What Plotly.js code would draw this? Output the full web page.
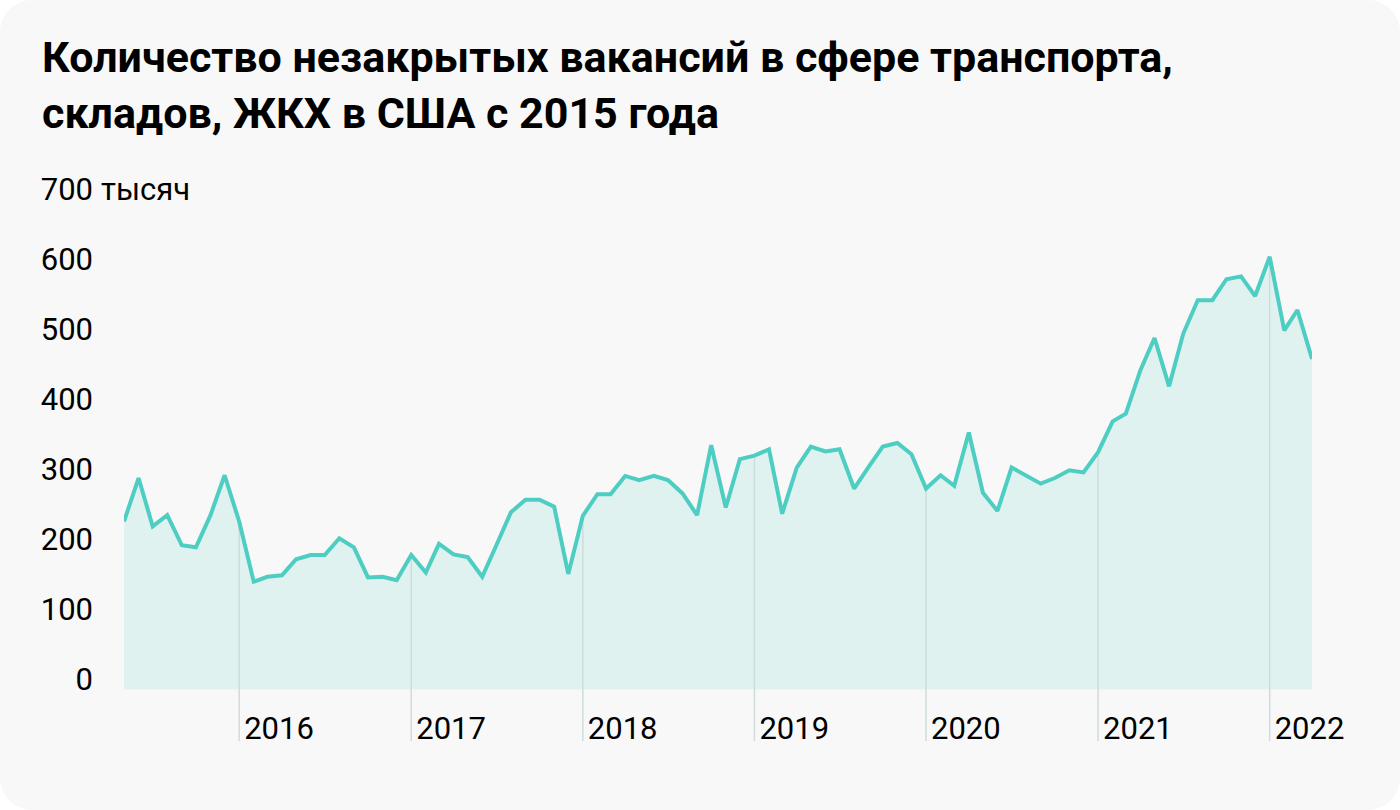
<!DOCTYPE html>
<html>
<head>
<meta charset="utf-8">
<script src="https://cdn.plot.ly/plotly-3.0.1.min.js"></script>
<style>
  html, body { margin: 0; padding: 0; background: #ffffff; }
  #chart { width: 1400px; height: 810px; background: #f8f8f8; border-radius: 32px; overflow: hidden; }
</style>
</head>
<body>
<div id="chart"></div>
<script>
// Job openings, transportation / warehousing / utilities, thousands
// monthly, from May 2015 to Apr 2022
var firstYear = 2015;
var firstMonth = 5;
var openings = [
    240, 302, 233, 249, 206, 203, 249, 306,                     // 2015 (May-Dec)
    240, 154, 161, 163, 186, 192, 192, 216, 203, 160, 161, 156, // 2016
    192, 167, 208, 193, 189, 161, 206, 253, 271, 271, 261, 165, // 2017
    248, 279, 279, 305, 299, 305, 299, 280, 249, 349, 260, 329, // 2018
    334, 343, 251, 317, 347, 340, 343, 287, 318, 347, 352, 336, // 2019
    287, 306, 291, 367, 281, 255, 317, 306, 294, 302, 313, 310, // 2020
    339, 383, 394, 456, 502, 433, 508, 556, 556, 586, 590, 562, // 2021
    618, 513, 542, 472                                          // 2022 (Jan-Apr)
];
var yearLabels = ['2016', '2017', '2018', '2019', '2020', '2021', '2022'];
var yTickVals = [0, 100, 200, 300, 400, 500, 600, 700];
var yTickText = ['0', '100', '200', '300', '400', '500', '600', '700'];
var unitLabel = 'тысяч';

var yFloor = -73.6;   // where the year lines stop, below zero
var yBottom = -87.9;
var yTop = 742;

// month dates for the x axis
var dates = [];
for (var i = 0; i < openings.length; i++) {
    var m = firstMonth - 1 + i;
    var yy = firstYear + Math.floor(m / 12);
    var mm = (m % 12) + 1;
    dates.push(yy + '-' + (mm < 10 ? '0' + mm : mm) + '-01');
}

// vertical year lines from the curve down to the labels
var lineX = [], lineY = [];
yearLabels.forEach(function (yr) {
    var d = yr + '-01-01';
    var idx = dates.indexOf(d);
    lineX.push(d, d, null);
    lineY.push(openings[idx], yFloor, null);
});

var fillTrace = {
    x: dates,
    y: openings,
    type: 'scatter',
    mode: 'lines',
    fill: 'tozeroy',
    fillcolor: '#e0f2f0',
    line: {width: 0, color: 'rgba(0,0,0,0)'},
    hoverinfo: 'skip'
};

var yearLines = {
    x: lineX,
    y: lineY,
    type: 'scatter',
    mode: 'lines',
    line: {color: '#cfdcdb', width: 1.5},
    hoverinfo: 'skip'
};

var mainLine = {
    x: dates,
    y: openings,
    type: 'scatter',
    mode: 'lines',
    line: {color: '#4ecdc3', width: 4},
    hoverinfo: 'x+y'
};

var tickFont = {family: 'Roboto, sans-serif', size: 31, color: '#000000'};

var layout = {
    width: 1400,
    height: 810,
    paper_bgcolor: 'rgba(0,0,0,0)',
    plot_bgcolor: 'rgba(0,0,0,0)',
    showlegend: false,
    margin: {l: 124, r: 88, t: 170, b: 59},
    font: {family: 'Roboto, sans-serif', color: '#000000', size: 31},
    title: {
        text: '<b>Количество незакрытых вакансий в сфере транспорта,<br>складов, ЖКХ в США с 2015 года</b>',
        font: {family: 'Roboto, sans-serif', size: 43, color: '#000000'},
        x: 42 / 1400,
        xanchor: 'left',
        y: 1 - 72 / 810,
        yanchor: 'top'
    },
    xaxis: {
        type: 'date',
        range: [dates[0], dates[dates.length - 1]],
        tickmode: 'array',
        tickvals: yearLabels.map(function (y) { return y + '-01-01'; }),
        ticktext: yearLabels,
        tickfont: tickFont,
        ticklabelposition: 'inside right',
        ticklabeloverflow: 'allow',
        ticklabelshift: 5,
        showgrid: false,
        zeroline: false,
        showline: false,
        ticks: '',
        fixedrange: true
    },
    yaxis: {
        range: [yBottom, yTop],
        tickmode: 'array',
        tickvals: yTickVals,
        ticktext: yTickText,
        tickfont: tickFont,
        ticklabelshift: -10,
        ticklabelstandoff: 30,
        showgrid: false,
        zeroline: false,
        showline: false,
        ticks: '',
        fixedrange: true
    },
    annotations: [{
        text: unitLabel,
        xref: 'paper',
        x: 0,
        xshift: -25,
        xanchor: 'left',
        yref: 'y',
        y: 700,
        yshift: 10,
        yanchor: 'middle',
        showarrow: false,
        font: tickFont
    }]
};

Plotly.newPlot('chart', [fillTrace, yearLines, mainLine], layout, {displayModeBar: false, staticPlot: true});
</script>
</body>
</html>
